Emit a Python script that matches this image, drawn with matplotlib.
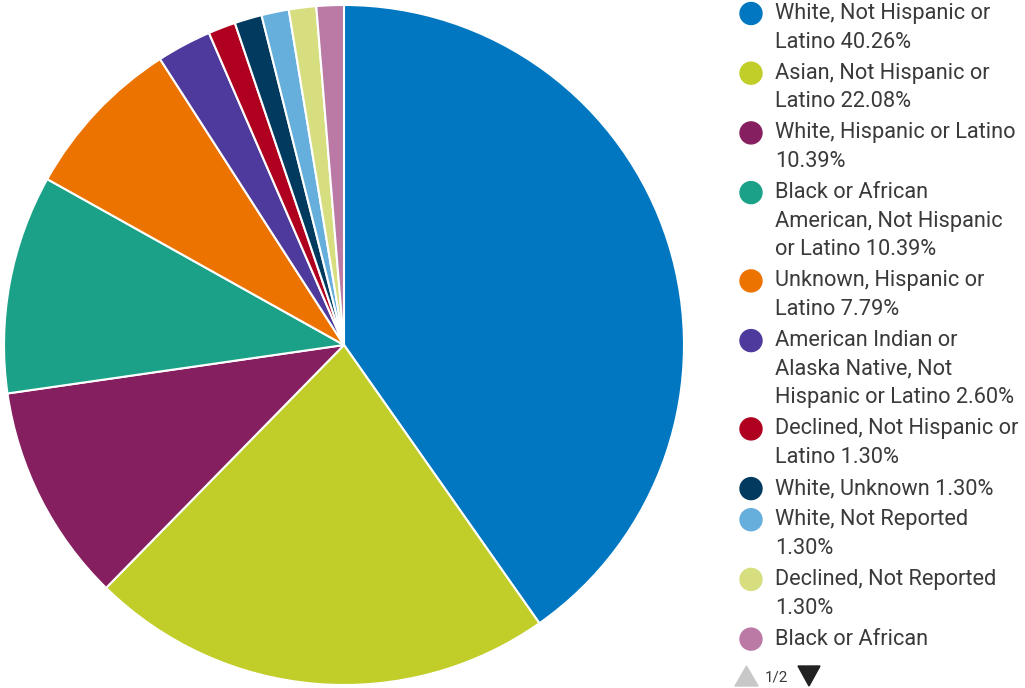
import matplotlib.pyplot as plt
from matplotlib.patches import Ellipse, Polygon

categories = [
    "White, Not Hispanic or Latino",
    "Asian, Not Hispanic or Latino",
    "White, Hispanic or Latino",
    "Black or African American, Not Hispanic or Latino",
    "Unknown, Hispanic or Latino",
    "American Indian or Alaska Native, Not Hispanic or Latino",
    "Declined, Not Hispanic or Latino",
    "White, Unknown",
    "White, Not Reported",
    "Declined, Not Reported",
    "Black or African American, Not Reported",
]
percents = [40.26, 22.08, 10.39, 10.39, 7.79, 2.60, 1.30, 1.30, 1.30, 1.30, 1.30]
colors = ["#0077c0", "#c1cd29", "#861f5f", "#1ba188", "#ec7300", "#4e3a9c",
          "#b0001f", "#003a5f", "#66aedb", "#d6de7f", "#ba7aa5"]

# legend page 1: wrapped lines per entry
legend_lines = [
    ["White, Not Hispanic or", "Latino 40.26%"],
    ["Asian, Not Hispanic or", "Latino 22.08%"],
    ["White, Hispanic or Latino", "10.39%"],
    ["Black or African", "American, Not Hispanic", "or Latino 10.39%"],
    ["Unknown, Hispanic or", "Latino 7.79%"],
    ["American Indian or", "Alaska Native, Not", "Hispanic or Latino 2.60%"],
    ["Declined, Not Hispanic or", "Latino 1.30%"],
    ["White, Unknown 1.30%"],
    ["White, Not Reported", "1.30%"],
    ["Declined, Not Reported", "1.30%"],
    ["Black or African"],
]

W, H = 1025, 688
fig = plt.figure(figsize=(W / 100, H / 100), dpi=100)
plt.rcParams['font.family'] = ['Roboto', 'DejaVu Sans']

# pie, centred at (344, 345) px with radius 340 px
cx, cy, r = 344, 345, 340
ax = fig.add_axes([(cx - r) / W, 1 - (cy + r) / H, 2 * r / W, 2 * r / H])
ax.pie(percents, colors=colors, startangle=90, counterclock=False,
       wedgeprops=dict(edgecolor="white", linewidth=1.5))
ax.set_xlim(-1, 1)
ax.set_ylim(-1, 1)
ax.set_aspect("equal")
ax.axis("off")


def fx(px):
    return px / W


def fy(py):
    return 1 - py / H


text_color = "#3a3a3a"
line_h = 28.6
gap = 2.5
y = 13.5
for lines, col in zip(legend_lines, colors):
    fig.patches.append(Ellipse((fx(751), fy(y)), 22 / W, 22 / H, color=col,
                               transform=fig.transFigure, figure=fig))
    for i, line in enumerate(lines):
        fig.text(fx(775), fy(y + i * line_h), line, fontsize=15.7,
                 color=text_color, va="center", ha="left")
    y += len(lines) * line_h + gap

# pager
up = [(735, 686), (758, 686), (746.5, 666)]
down = [(798, 666), (820, 666), (809, 686)]
fig.patches.append(Polygon([(fx(a), fy(b)) for a, b in up], closed=True,
                           color="#c8c8c8", transform=fig.transFigure, figure=fig))
fig.patches.append(Polygon([(fx(a), fy(b)) for a, b in down], closed=True,
                           color="#222222", transform=fig.transFigure, figure=fig))
fig.text(fx(777), fy(677), "1/2", fontsize=11, color=text_color,
         ha="center", va="center")

fig.savefig("out.png", dpi=100)
